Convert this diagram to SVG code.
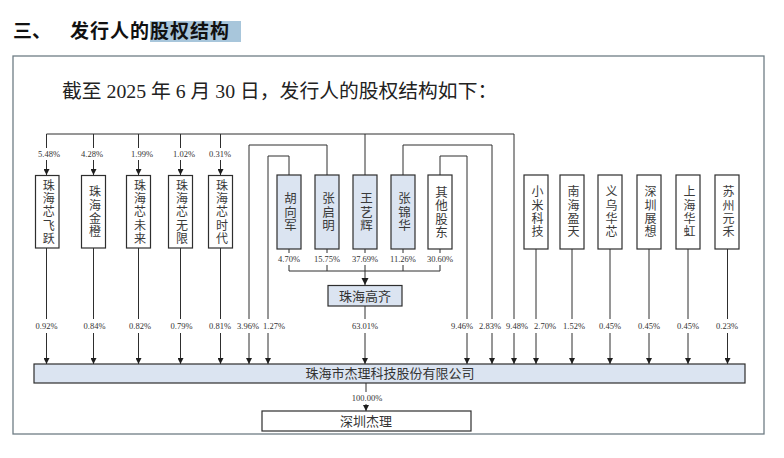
<svg xmlns="http://www.w3.org/2000/svg" width="784" height="458" viewBox="0 0 784 458">
<defs>
<style>
.box{fill:#fff;stroke:#2e2e2e;stroke-width:1.2}
.blue{fill:#dbe4f1}
.vt{font-family:"Liberation Serif","Noto Sans CJK SC",serif;font-size:12px;fill:#3a3a3a;text-anchor:middle;writing-mode:vertical-rl;letter-spacing:1.3px}
.vm{font-size:12.5px;letter-spacing:1px}
.vr{font-size:12px;letter-spacing:1.3px}
.ht{font-family:"Liberation Serif","Noto Sans CJK SC",serif;font-size:13px;fill:#333;text-anchor:middle}
.pct{font-family:"Liberation Serif","Noto Serif",serif;font-size:8.5px;fill:#333;text-anchor:middle}
.ln{fill:none;stroke:#2e2e2e;stroke-width:1}
.lbg{fill:#fff}
</style>
<marker id="ar" viewBox="0 0 10 10" refX="10" refY="5" markerWidth="6" markerHeight="6" markerUnits="userSpaceOnUse" orient="auto">
<path d="M0,0 L10,5 L0,10 z" fill="#1e1e1e"/>
</marker>
<marker id="arb" viewBox="0 0 10 10" refX="10" refY="5" markerWidth="7" markerHeight="8" markerUnits="userSpaceOnUse" orient="auto">
<path d="M0,0 L10,5 L0,10 z" fill="#1e1e1e"/>
</marker>
</defs>
<rect x="0" y="0" width="784" height="458" fill="#fff"/>

<g id="heading">
<rect x="150" y="21" width="91" height="21" fill="#a8c6db"/>
<text x="13" y="38" font-family="'Noto Sans CJK SC',sans-serif" font-weight="bold" font-size="19px" fill="#111">三、</text>
<text x="70" y="38" font-family="'Noto Sans CJK SC',sans-serif" font-weight="bold" font-size="19px" fill="#111" letter-spacing="1">发行人的股权结构</text>
</g>

<rect id="frame" x="13" y="56" width="751" height="378" fill="none" stroke="#6f7d85" stroke-width="1.3"/>

<text id="subtitle" x="62" y="98" font-family="'Liberation Serif','Noto Sans CJK SC',serif" font-size="19.8px" fill="#222">截至 2025 年 6 月 30 日，发行人的股权结构如下：</text>

<g id="connectors">
<path class="ln" d="M46.5,134 H514"/>
<path class="ln" d="M46.5,134 V175" marker-end="url(#ar)"/>
<path class="ln" d="M93.5,134 V175" marker-end="url(#ar)"/>
<path class="ln" d="M138.5,134 V175" marker-end="url(#ar)"/>
<path class="ln" d="M180.5,134 V175" marker-end="url(#ar)"/>
<path class="ln" d="M220.5,134 V175" marker-end="url(#ar)"/>
<path class="ln" d="M365,175 V134"/>
<path class="ln" d="M514,134 V364" marker-end="url(#ar)"/>
<path class="ln" d="M327,175 V145 H249 V364" marker-end="url(#ar)"/>
<path class="ln" d="M403,175 V145 H492 V364" marker-end="url(#ar)"/>
<path class="ln" d="M289,175 V156 H268 V364" marker-end="url(#ar)"/>
<path class="ln" d="M440,175 V156 H467 V364" marker-end="url(#ar)"/>
<path class="ln" d="M46.5,248 V364" marker-end="url(#ar)"/>
<path class="ln" d="M93.5,248 V364" marker-end="url(#ar)"/>
<path class="ln" d="M138.5,248 V364" marker-end="url(#ar)"/>
<path class="ln" d="M180.5,248 V364" marker-end="url(#ar)"/>
<path class="ln" d="M220.5,248 V364" marker-end="url(#ar)"/>
<path class="ln" d="M289,249 V271 M327,249 V271 M365,249 V271 M403,249 V271 M440,249 V271 M289,271 H440"/>
<path class="ln" d="M365,271 V285" stroke-width="2" marker-end="url(#arb)"/>
<path class="ln" d="M365,306 V364" marker-end="url(#ar)"/>
<path class="ln" d="M536,249 V364" marker-end="url(#ar)"/>
<path class="ln" d="M572,249 V364" marker-end="url(#ar)"/>
<path class="ln" d="M610,249 V364" marker-end="url(#ar)"/>
<path class="ln" d="M649,249 V364" marker-end="url(#ar)"/>
<path class="ln" d="M688,249 V364" marker-end="url(#ar)"/>
<path class="ln" d="M727.5,249 V364" marker-end="url(#ar)"/>
<path class="ln" d="M366,383 V411" marker-end="url(#ar)"/>

<g id="labels-top">
<rect class="lbg" x="37" y="148" width="24" height="12"/><text class="pct" x="49" y="157">5.48%</text>
<rect class="lbg" x="80" y="148" width="24" height="12"/><text class="pct" x="92" y="157">4.28%</text>
<rect class="lbg" x="130" y="148" width="24" height="12"/><text class="pct" x="142" y="157">1.99%</text>
<rect class="lbg" x="172" y="148" width="24" height="12"/><text class="pct" x="184" y="157">1.02%</text>
<rect class="lbg" x="208" y="148" width="24" height="12"/><text class="pct" x="220" y="157">0.31%</text>
</g>
<g id="labels-mid">
<rect class="lbg" x="277" y="253" width="24" height="12"/><text class="pct" x="289" y="262">4.70%</text>
<rect class="lbg" x="313" y="253" width="28" height="12"/><text class="pct" x="327" y="262">15.75%</text>
<rect class="lbg" x="351" y="253" width="28" height="12"/><text class="pct" x="365" y="262">37.69%</text>
<rect class="lbg" x="389" y="253" width="28" height="12"/><text class="pct" x="403" y="262">11.26%</text>
<rect class="lbg" x="426" y="253" width="28" height="12"/><text class="pct" x="440" y="262">30.60%</text>
</g>
<g id="labels-bottom">
<rect class="lbg" x="34.5" y="319" width="24" height="14"/><text class="pct" x="46.5" y="329">0.92%</text>
<rect class="lbg" x="82.5" y="319" width="24" height="14"/><text class="pct" x="94.5" y="329">0.84%</text>
<rect class="lbg" x="128" y="319" width="24" height="14"/><text class="pct" x="140" y="329">0.82%</text>
<rect class="lbg" x="169.5" y="319" width="24" height="14"/><text class="pct" x="181.5" y="329">0.79%</text>
<rect class="lbg" x="208" y="319" width="24" height="14"/><text class="pct" x="220" y="329">0.81%</text>
<rect class="lbg" x="236" y="319" width="24" height="14"/><text class="pct" x="248" y="329">3.96%</text>
<rect class="lbg" x="262" y="319" width="24" height="14"/><text class="pct" x="274" y="329">1.27%</text>
<rect class="lbg" x="351" y="319" width="28" height="14"/><text class="pct" x="365" y="329">63.01%</text>
<rect class="lbg" x="450" y="319" width="24" height="14"/><text class="pct" x="462" y="329">9.46%</text>
<rect class="lbg" x="478" y="319" width="24" height="14"/><text class="pct" x="490" y="329">2.83%</text>
<rect class="lbg" x="505" y="319" width="24" height="14"/><text class="pct" x="517" y="329">9.48%</text>
<rect class="lbg" x="533" y="319" width="24" height="14"/><text class="pct" x="545" y="329">2.70%</text>
<rect class="lbg" x="562" y="319" width="24" height="14"/><text class="pct" x="574" y="329">1.52%</text>
<rect class="lbg" x="598" y="319" width="24" height="14"/><text class="pct" x="610" y="329">0.45%</text>
<rect class="lbg" x="637" y="319" width="24" height="14"/><text class="pct" x="649" y="329">0.45%</text>
<rect class="lbg" x="676" y="319" width="24" height="14"/><text class="pct" x="688" y="329">0.45%</text>
<rect class="lbg" x="715" y="319" width="24" height="14"/><text class="pct" x="727" y="329">0.23%</text>
<rect class="lbg" x="351" y="392" width="32" height="12"/><text class="pct" x="367" y="401" font-size="8px">100.00%</text>
</g>
</g>

<g id="n-zhxfy"><rect class="box" x="35.5" y="175.5" width="23.5" height="72.5"/><text class="vt" x="47.2" y="212.5">珠海芯飞跃</text></g>
<g id="n-zhjc"><rect class="box" x="81.5" y="175.5" width="24" height="72.5"/><text class="vt" x="93.5" y="212.5">珠海金橙</text></g>
<g id="n-zhxwl"><rect class="box" x="126.5" y="175.5" width="24" height="72.5"/><text class="vt" x="138.5" y="212.5">珠海芯未来</text></g>
<g id="n-zhxwx"><rect class="box" x="168.5" y="175.5" width="24" height="72.5"/><text class="vt" x="180.5" y="212.5">珠海芯无限</text></g>
<g id="n-zhxsd"><rect class="box" x="208.5" y="175.5" width="24" height="72.5"/><text class="vt" x="220.5" y="212.5">珠海芯时代</text></g>

<g id="n-hxj"><rect class="box blue" x="277" y="175" width="24" height="74"/><text class="vt vm" x="289" y="212.5">胡向军</text></g>
<g id="n-zqm"><rect class="box blue" x="315" y="175" width="24" height="74"/><text class="vt vm" x="327" y="212.5">张启明</text></g>
<g id="n-wyh"><rect class="box blue" x="353" y="175" width="24" height="74"/><text class="vt vm" x="365" y="212.5">王艺辉</text></g>
<g id="n-zjh"><rect class="box blue" x="391" y="175" width="24" height="74"/><text class="vt vm" x="403" y="212.5">张锦华</text></g>
<g id="n-qtgd"><rect class="box" x="428" y="175" width="24" height="74"/><text class="vt vm" x="440" y="212.5">其他股东</text></g>

<g id="n-zhgq"><rect class="box blue" x="328" y="285.5" width="74" height="20.5"/><text class="ht" x="365" y="300.5">珠海高齐</text></g>

<g id="n-xmkj"><rect class="box" x="524" y="175" width="24" height="74"/><text class="vt vr" x="536" y="212.5">小米科技</text></g>
<g id="n-nhyt"><rect class="box" x="560" y="175" width="24" height="74"/><text class="vt vr" x="572" y="212.5">南海盈天</text></g>
<g id="n-ywhx"><rect class="box" x="598" y="175" width="24" height="74"/><text class="vt vr" x="610" y="212.5">义乌华芯</text></g>
<g id="n-szzx"><rect class="box" x="637" y="175" width="24" height="74"/><text class="vt vr" x="649" y="212.5">深圳展想</text></g>
<g id="n-shhh"><rect class="box" x="676" y="175" width="24" height="74"/><text class="vt vr" x="688" y="212.5">上海华虹</text></g>
<g id="n-szyh"><rect class="box" x="715" y="175" width="24" height="74"/><text class="vt vr" x="727" y="212.5">苏州元禾</text></g>

<g id="n-company"><rect class="box blue" x="34" y="364" width="711" height="19"/><text class="ht" x="390" y="378">珠海市杰理科技股份有限公司</text></g>

<g id="n-szjl"><rect class="box" x="262" y="411" width="209" height="20"/><text class="ht" x="366" y="425.5">深圳杰理</text></g>
</svg>
